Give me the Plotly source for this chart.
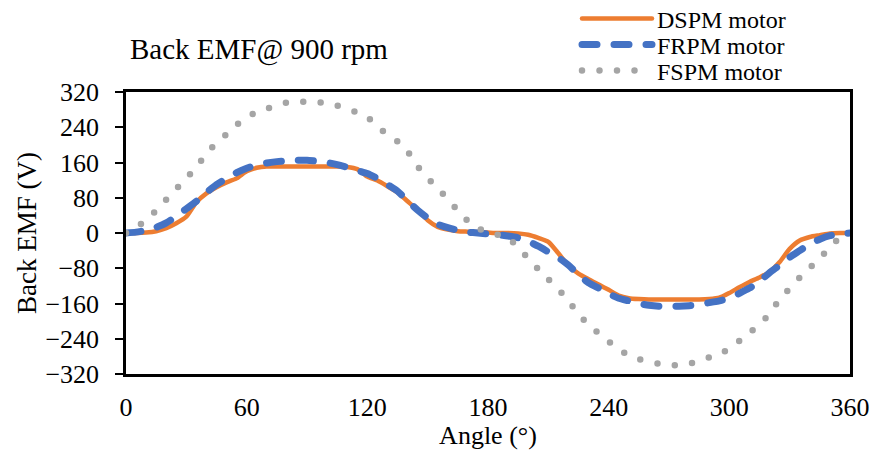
import plotly.graph_objects as go

angle = list(range(0, 361, 5))

dspm = [0, 0, 1, 4, 11, 22, 37, 70, 90, 104, 115, 124, 140, 148, 151, 151, 151, 151, 151,
        151, 151, 151, 150, 145, 128, 119, 106, 92, 72, 52, 29, 14, 8, 4, 3, 2, 1,
        0, 0, -1, -4, -11, -20, -46, -74, -92, -105, -117, -129, -142, -148, -150, -151,
        -151, -151, -151, -151, -151, -150, -147, -136, -123, -111, -101, -88, -66, -36,
        -17, -9, -5, -1, 0, 0]

frpm = [0, 2, 6, 13, 23, 38, 55, 72, 92, 110, 124, 137, 147, 154, 159, 162, 164, 165, 165,
        163, 160, 155, 149, 142, 135, 124, 110, 95, 73, 52, 34, 20, 12, 6, 2, 0, -2,
        -4, -7, -11, -19, -30, -43, -56, -73, -95, -113, -125, -138, -148, -154, -160, -164,
        -166, -166, -166, -165, -163, -158, -154, -148, -137, -125, -110, -90, -73, -55,
        -40, -25, -14, -6, -2, 0]

fspm = [0, 12, 30, 51, 76, 100, 124, 150, 180, 205, 224, 245, 263, 274, 282, 290, 296, 297, 298,
        297, 294, 289, 282, 273, 263, 242, 223, 208, 185, 151, 125, 101, 77, 51, 27, 11, 2,
        -4, -12, -32, -58, -82, -105, -128, -153, -185, -207, -228, -246, -265, -277, -286, -292,
        -297, -300, -300, -297, -290, -282, -276, -262, -245, -227, -206, -184, -150, -126,
        -101, -79, -58, -31, -11, 0]

x_ticks = [0, 60, 120, 180, 240, 300, 360]
y_ticks = [-320, -240, -160, -80, 0, 80, 160, 240, 320]

FONT = "Liberation Serif, Times New Roman, serif"

fig = go.Figure()
fig.add_trace(go.Scatter(x=angle, y=dspm, mode="lines", name="DSPM motor", legend="legend",
                         line=dict(color="#ED7D31", width=4.5, shape="spline", smoothing=0.6)))
fig.add_trace(go.Scatter(x=angle, y=frpm, mode="lines", name="FRPM motor", legend="legend2",
                         line=dict(color="#4472C4", width=7, shape="spline", smoothing=0.6,
                                   dash="15px,17px")))
fig.add_trace(go.Scatter(x=angle, y=fspm, mode="lines", name="FSPM motor", legend="legend3",
                         line=dict(color="#A5A5A5", width=6.5, shape="spline", smoothing=0.6,
                                   dash="0px,17.5px")))

PLOT_L, PLOT_T, PLOT_R, PLOT_B = 126, 92, 850, 374
PW, PH = PLOT_R - PLOT_L, PLOT_B - PLOT_T


def leg(py):
    return dict(x=(577 - PLOT_L) / PW, y=(PLOT_B - py) / PH, xanchor="left", yanchor="middle",
                bgcolor="rgba(0,0,0,0)", font=dict(family=FONT, size=24, color="black"),
                itemwidth=70, tracegroupgap=0)


fig.update_layout(
    width=871, height=450,
    margin=dict(l=PLOT_L, r=871 - PLOT_R, t=PLOT_T, b=450 - PLOT_B, autoexpand=False),
    paper_bgcolor="white", plot_bgcolor="white",
    font=dict(family=FONT, color="black", size=26),
    title=dict(text="Back EMF@ 900 rpm", x=130/871, xref="container", xanchor="left",
               y=1 - 49/450, yref="container", yanchor="middle", automargin=False,
               font=dict(family=FONT, size=29, color="black")),
    showlegend=True,
    legend=leg(19), legend2=leg(45), legend3=leg(71),
    xaxis=dict(range=[0, 360], tickvals=x_ticks, ticktext=[str(v) for v in x_ticks],
               showgrid=False, zeroline=False, showline=True, mirror=True, automargin=False,
               linecolor="black", linewidth=2.5, ticks="", ticklabelstandoff=8,
               tickfont=dict(size=26),
               title=dict(text="Angle (°)", standoff=7, font=dict(size=26))),
    xaxis2=dict(range=[0, 360], overlaying="x", anchor="free", position=0.5,
                tickvals=x_ticks, showticklabels=False, ticks="outside", ticklen=7,
                tickwidth=2, tickcolor="black", showline=True, linecolor="black",
                linewidth=2.5, showgrid=False, zeroline=False, automargin=False),
    yaxis=dict(range=[-320, 320], tickvals=y_ticks, showgrid=False, zeroline=False,
               showline=True, mirror=True, linecolor="black", linewidth=2.5, automargin=False,
               ticks="outside", ticklen=8, tickwidth=2, tickcolor="black",
               ticklabelstandoff=11, tickfont=dict(size=26),
               title=dict(text="Back EMF (V)", standoff=1, font=dict(size=27))),
)

post = ("var s=document.createElement('style');"
        "s.innerHTML='.js-line{stroke-linecap:round !important;}';"
        "document.head.appendChild(s);")

fig.write_html("out.html", post_script=post)
